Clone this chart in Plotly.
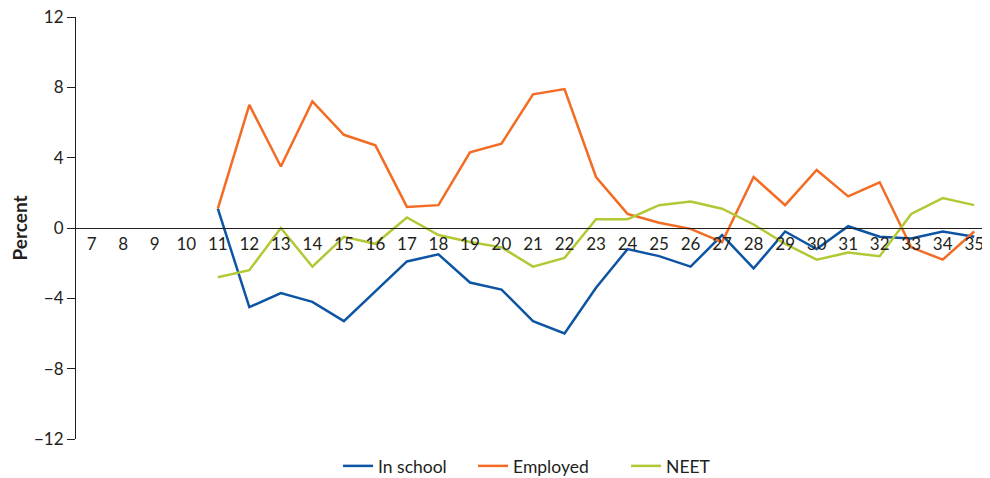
import plotly.graph_objects as go

ages = [str(a) for a in range(7, 36)]

# values per age, 7-10 have no data
in_school = [None, None, None, None,
             1.1, -4.5, -3.7, -4.2, -5.3, -3.6, -1.9, -1.5, -3.1, -3.5,
             -5.3, -6.0, -3.4, -1.2, -1.6, -2.2, -0.4, -2.3, -0.2, -1.2,
             0.1, -0.5, -0.6, -0.2, -0.5]
employed = [None, None, None, None,
            1.1, 7.0, 3.5, 7.2, 5.3, 4.7, 1.2, 1.3, 4.3, 4.8,
            7.6, 7.9, 2.9, 0.8, 0.3, -0.05, -0.8, 2.9, 1.3, 3.3,
            1.8, 2.6, -1.1, -1.8, -0.2]
neet = [None, None, None, None,
        -2.8, -2.4, 0.0, -2.2, -0.5, -0.9, 0.6, -0.4, -0.8, -1.1,
        -2.2, -1.7, 0.5, 0.5, 1.3, 1.5, 1.1, 0.2, -0.9, -1.8,
        -1.4, -1.6, 0.8, 1.7, 1.3]

y_ticks = [-12, -8, -4, 0, 4, 8, 12]

# one legend per series so the uneven gaps of the original can be kept
series = [
    ("In school", in_school, "#0d55a3", "legend", 0.2867),
    ("Employed", employed, "#f26c24", "legend2", 0.4344),
    ("NEET", neet, "#b3c835", "legend3", 0.6018),
]

fig = go.Figure()
for name, vals, color, leg, _ in series:
    fig.add_trace(go.Scatter(x=ages, y=vals, name=name, mode="lines", legend=leg,
                             line=dict(color=color, width=2.5)))

# page body has an 8px margin, so the figure is 8px smaller each way
fig.update_layout(
    width=982, height=470,
    margin=dict(l=68, r=0, t=9, b=39, autoexpand=False),
    plot_bgcolor="white", paper_bgcolor="white",
    font=dict(family="Lato, Noto Sans, sans-serif", size=17, color="#231f20"),
    showlegend=True,
)
for name, vals, color, leg, lx in series:
    fig.update_layout({leg: dict(orientation="h", x=lx, xanchor="left",
                                 y=-0.064, yanchor="middle", font=dict(size=17.5))})

fig.update_xaxes(
    type="category", range=[-0.5, 28.5],
    anchor="free", position=0.5, automargin=False,
    showline=True, linecolor="#231f20", linewidth=1.2,
    showgrid=False, ticks="", zeroline=False,
    tickfont=dict(size=17),
)
fig.update_yaxes(
    range=[-12, 12], tickvals=y_ticks, automargin=False,
    ticklabeloverflow="allow",
    showline=True, linecolor="#231f20", linewidth=1.2,
    ticks="outside", ticklen=8, tickcolor="#231f20",
    showgrid=False, zeroline=False,
    title=dict(text="<b>Percent</b>", font=dict(size=19), standoff=28),
    tickfont=dict(size=17),
)

fig.write_html("out.html")
